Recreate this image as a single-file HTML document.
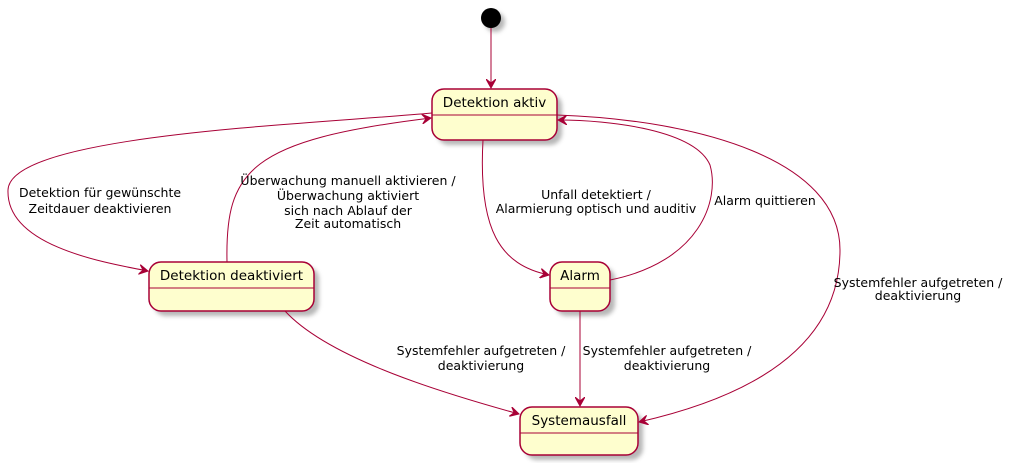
<!DOCTYPE html>
<html><head><meta charset="utf-8"><style>
html,body{margin:0;padding:0;background:#fff;}
svg{display:block;}
text{font-family:"DejaVu Sans","Liberation Sans",sans-serif;fill:#000;}
.l{font-size:12.5px;}
.s{font-size:13.5px;}
.e{fill:none;stroke:#A80036;stroke-width:1;}
.b{fill:#FEFECE;stroke:#A80036;stroke-width:1.5;}
</style></head><body>
<svg width="1019" height="463" viewBox="0 0 1019 463" xmlns="http://www.w3.org/2000/svg">
<defs>
<marker id="a" markerWidth="10" markerHeight="10" refX="9" refY="5" orient="auto" markerUnits="userSpaceOnUse">
<path d="M0,0 L9,5 L0,10 L4,5 Z" fill="#A80036" stroke="#A80036"/></marker>
<filter id="sh" x="-20%" y="-20%" width="150%" height="150%"><feGaussianBlur stdDeviation="2"/></filter>
</defs>
<!-- shadows -->
<g fill="#999" filter="url(#sh)" opacity="0.7">
<circle cx="495" cy="22" r="10"/>
<rect x="437" y="94" width="125" height="51" rx="12"/>
<rect x="154" y="267" width="165" height="49" rx="12"/>
<rect x="555" y="267" width="60" height="49" rx="12"/>
<rect x="525" y="412" width="118" height="48" rx="12"/>
</g>
<circle cx="491" cy="18" r="10" fill="#000"/>
<!-- boxes -->
<rect class="b" x="432" y="89" width="125" height="51" rx="12"/>
<line class="e" x1="432" y1="115" x2="557" y2="115" stroke-width="1.5"/>
<text class="s" x="494.5" y="107" text-anchor="middle">Detektion aktiv</text>
<rect class="b" x="149" y="262" width="165" height="49" rx="12"/>
<line class="e" x1="149" y1="288" x2="314" y2="288" stroke-width="1.5"/>
<text class="s" x="231.5" y="280" text-anchor="middle">Detektion deaktiviert</text>
<rect class="b" x="550" y="262" width="60" height="49" rx="12"/>
<line class="e" x1="550" y1="288" x2="610" y2="288" stroke-width="1.5"/>
<text class="s" x="580" y="280" text-anchor="middle">Alarm</text>
<rect class="b" x="520" y="407" width="118" height="48" rx="12"/>
<line class="e" x1="520" y1="433" x2="638" y2="433" stroke-width="1.5"/>
<text class="s" x="579" y="425" text-anchor="middle">Systemausfall</text>
<!-- edges -->
<path class="e" marker-end="url(#a)" d="M491,28 L491,88"/>
<path class="e" marker-end="url(#a)" d="M432,113 C300,125 10,135 8,190 C6,245 100,262 148,271"/>
<path class="e" marker-end="url(#a)" d="M227,262 C225,170 250,140 431,118"/>
<path class="e" marker-end="url(#a)" d="M483,140 C478,230 500,265 549,275"/>
<path class="e" marker-end="url(#a)" d="M610,280 C700,262 720,200 710,165 C695,130 610,120 558,120"/>
<path class="e" marker-end="url(#a)" d="M557,115 C700,120 840,160 840,250 C840,330 780,390 639,422"/>
<path class="e" marker-end="url(#a)" d="M285,311 C330,360 450,395 519,414"/>
<path class="e" marker-end="url(#a)" d="M580,311 L580,406"/>
<!-- labels -->
<g class="l" text-anchor="middle">
<text x="100" y="197">Detektion für gewünschte</text>
<text x="100" y="213">Zeitdauer deaktivieren</text>
<text x="348" y="185">Überwachung manuell aktivieren /</text>
<text x="348" y="200">Überwachung aktiviert</text>
<text x="348" y="215">sich nach Ablauf der</text>
<text x="348" y="228">Zeit automatisch</text>
<text x="596" y="199">Unfall detektiert /</text>
<text x="596" y="213">Alarmierung optisch und auditiv</text>
<text x="765" y="205">Alarm quittieren</text>
<text x="918" y="287">Systemfehler aufgetreten /</text>
<text x="918" y="300">deaktivierung</text>
<text x="481" y="355">Systemfehler aufgetreten /</text>
<text x="481" y="370">deaktivierung</text>
<text x="667" y="355">Systemfehler aufgetreten /</text>
<text x="667" y="370">deaktivierung</text>
</g>
</svg>
</body></html>
